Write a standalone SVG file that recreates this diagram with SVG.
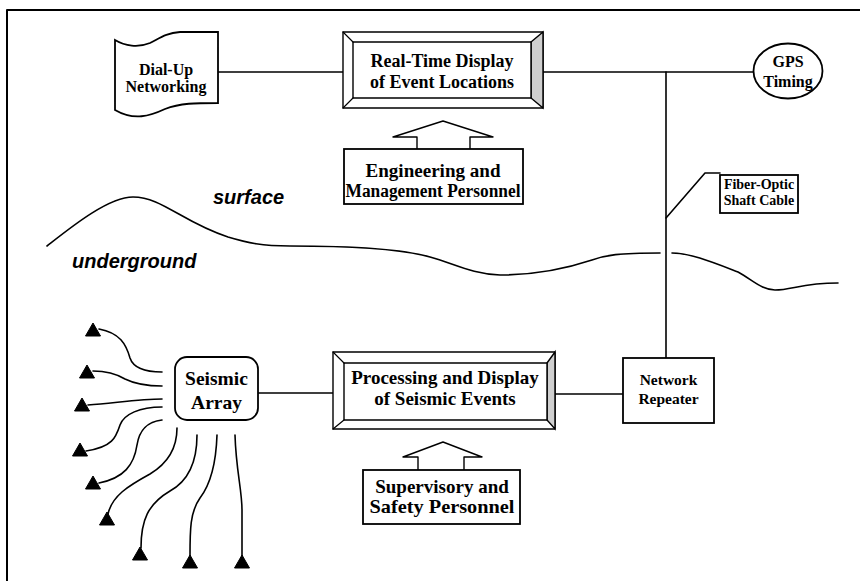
<svg xmlns="http://www.w3.org/2000/svg" xmlns:xlink="http://www.w3.org/1999/xlink" width="860" height="581" viewBox="0 0 860 581">
<style>
.ln{fill:none;stroke:#000;stroke-width:1.6;stroke-linecap:round;stroke-linejoin:round}
.bx{fill:#fff;stroke:#000;stroke-width:1.8}
.bev{fill:#fff;stroke:#000;stroke-width:1.4;stroke-linejoin:round}
.sh{fill:#cfcfcf;stroke:#000;stroke-width:1.4}
.t{font-family:"Liberation Serif","Times New Roman",serif;font-weight:bold;text-anchor:middle;fill:#000}
.lbl{font-family:"Liberation Sans",Arial,sans-serif;font-weight:bold;font-style:italic;fill:#000;font-size:20px}
.tri{fill:#000;stroke:#000;stroke-width:1}
</style>
<defs>
<path id="tri" d="M0,-7 L7.5,6 L-7.5,6 Z"/>
</defs>
<rect width="860" height="581" fill="#fff"/>
<g id="frame" class="ln" style="stroke-width:2">
<path d="M7,581 V10 H860"/>
</g>
<g id="terrain">
<path class="ln" d="M47,246 C70,228 108,197 133,197 C162,197 182,222 228,237 C248,243 262,246 290,246 C335,246 395,247 430,257 C455,264 472,274 500,275 C535,275 565,269 592,260 C606,255 618,253 660,253"/>
<path class="ln" d="M672,253 C690,253 712,262 738,272 C754,281 762,290 775,290 C792,290 802,283 838,283"/>
<text class="lbl" x="213" y="204">surface</text>
<text class="lbl" x="72" y="268">underground</text>
</g>
<g id="connectors" class="ln">
<path d="M218,72 H343"/>
<path d="M543,72 H753"/>
<path d="M666,72 V358"/>
<path d="M720,173 H705 L666,218"/>
<path d="M258,393 H333"/>
<path d="M555,394 H623"/>
<path d="M162,372 C150,372 134,370 130,358 C126,344 120,333 99,329"/>
<path d="M162,386 C145,386 135,384 125,379 C115,373 105,371 93,371"/>
<path d="M162,399 C140,399 115,403 88,405"/>
<path d="M162,407 C140,407 124,414 120,425 C116,437 113,447 86,451"/>
<path d="M162,420 C145,422 139,432 137,445 C134,465 124,478 99,483"/>
<path d="M177,428 C177,445 170,462 150,474 C128,486 112,496 108,514"/>
<path d="M197,435 C197,460 190,480 170,491 C148,504 141,520 141,548"/>
<path d="M217,435 C216,465 210,485 200,498 C190,512 190,530 190,556"/>
<path d="M235,435 C236,470 242,490 242,510 L242,556"/>
</g>
<g id="sensors" class="tri">
<use xlink:href="#tri" x="93" y="330"/>
<use xlink:href="#tri" x="87" y="372"/>
<use xlink:href="#tri" x="82" y="405"/>
<use xlink:href="#tri" x="80" y="450"/>
<use xlink:href="#tri" x="93" y="483"/>
<use xlink:href="#tri" x="107" y="519"/>
<use xlink:href="#tri" x="140" y="554"/>
<use xlink:href="#tri" x="190" y="562"/>
<use xlink:href="#tri" x="242" y="562"/>
</g>
<g id="dialup">
<path class="bx" d="M115,40 C125,46 138,48 150,43 C160,38 166,33 180,32 L218,32 L218,103 C196,103 180,103 165,109 C150,116 134,121 115,110 Z"/>
<text class="t" font-size="16" x="166" y="75">Dial-Up</text>
<text class="t" font-size="16" x="166" y="92">Networking</text>
</g>
<g id="realtime">
<rect class="bev" x="343" y="32" width="200" height="76"/>
<path class="sh" d="M531,42 L543,32 L543,108 L531,98 Z"/>
<rect class="bev" x="353" y="42" width="178" height="56"/>
<path class="ln" style="stroke-width:1.2" d="M343,32 L353,42 M343,108 L353,98"/>
<text class="t" font-size="18" x="442" y="67">Real-Time Display</text>
<text class="t" font-size="18" x="442" y="88">of Event Locations</text>
</g>
<g id="gps">
<ellipse class="bx" cx="788" cy="71" rx="34.5" ry="27.5"/>
<text class="t" font-size="16" x="788" y="67">GPS</text>
<text class="t" font-size="16" x="788" y="87">Timing</text>
</g>
<g id="engineering">
<path class="bev" d="M417,150 V137 H393 L443,121 L493,137 H470 V150"/>
<rect class="bx" x="344" y="149" width="179" height="55"/>
<text class="t" font-size="18" x="433" y="177" textLength="135" lengthAdjust="spacingAndGlyphs">Engineering and</text>
<text class="t" font-size="18" x="433" y="197" textLength="175" lengthAdjust="spacingAndGlyphs">Management Personnel</text>
</g>
<g id="fiber">
<rect class="bx" x="720" y="175" width="78" height="38"/>
<text class="t" font-size="14" x="759" y="189">Fiber-Optic</text>
<text class="t" font-size="14" x="759" y="205">Shaft Cable</text>
</g>
<g id="seismic">
<rect class="bx" x="175" y="357" width="83" height="63" rx="12"/>
<text class="t" font-size="19.5" x="216.5" y="385">Seismic</text>
<text class="t" font-size="19.5" x="216.5" y="409">Array</text>
</g>
<g id="processing">
<rect class="bev" x="333" y="352" width="222" height="77"/>
<path class="sh" d="M547,363 L555,352 L555,429 L547,420 Z"/>
<rect class="bev" x="344" y="363" width="203" height="57"/>
<path class="ln" style="stroke-width:1.2" d="M333,352 L344,363 M333,429 L344,420"/>
<text class="t" font-size="19" x="445" y="384">Processing and Display</text>
<text class="t" font-size="19" x="445" y="405">of Seismic Events</text>
</g>
<g id="repeater">
<rect class="bx" x="623" y="358" width="91" height="65"/>
<text class="t" font-size="15.5" x="668.5" y="385">Network</text>
<text class="t" font-size="15.5" x="668.5" y="404">Repeater</text>
</g>
<g id="supervisory">
<path class="bev" d="M418,471 V457 H403 L443,442 L482,457 H464 V471"/>
<rect class="bx" x="363" y="470" width="157" height="54"/>
<text class="t" font-size="19" x="442" y="493">Supervisory and</text>
<text class="t" font-size="19" x="442" y="513" textLength="145" lengthAdjust="spacingAndGlyphs">Safety Personnel</text>
</g>
</svg>
